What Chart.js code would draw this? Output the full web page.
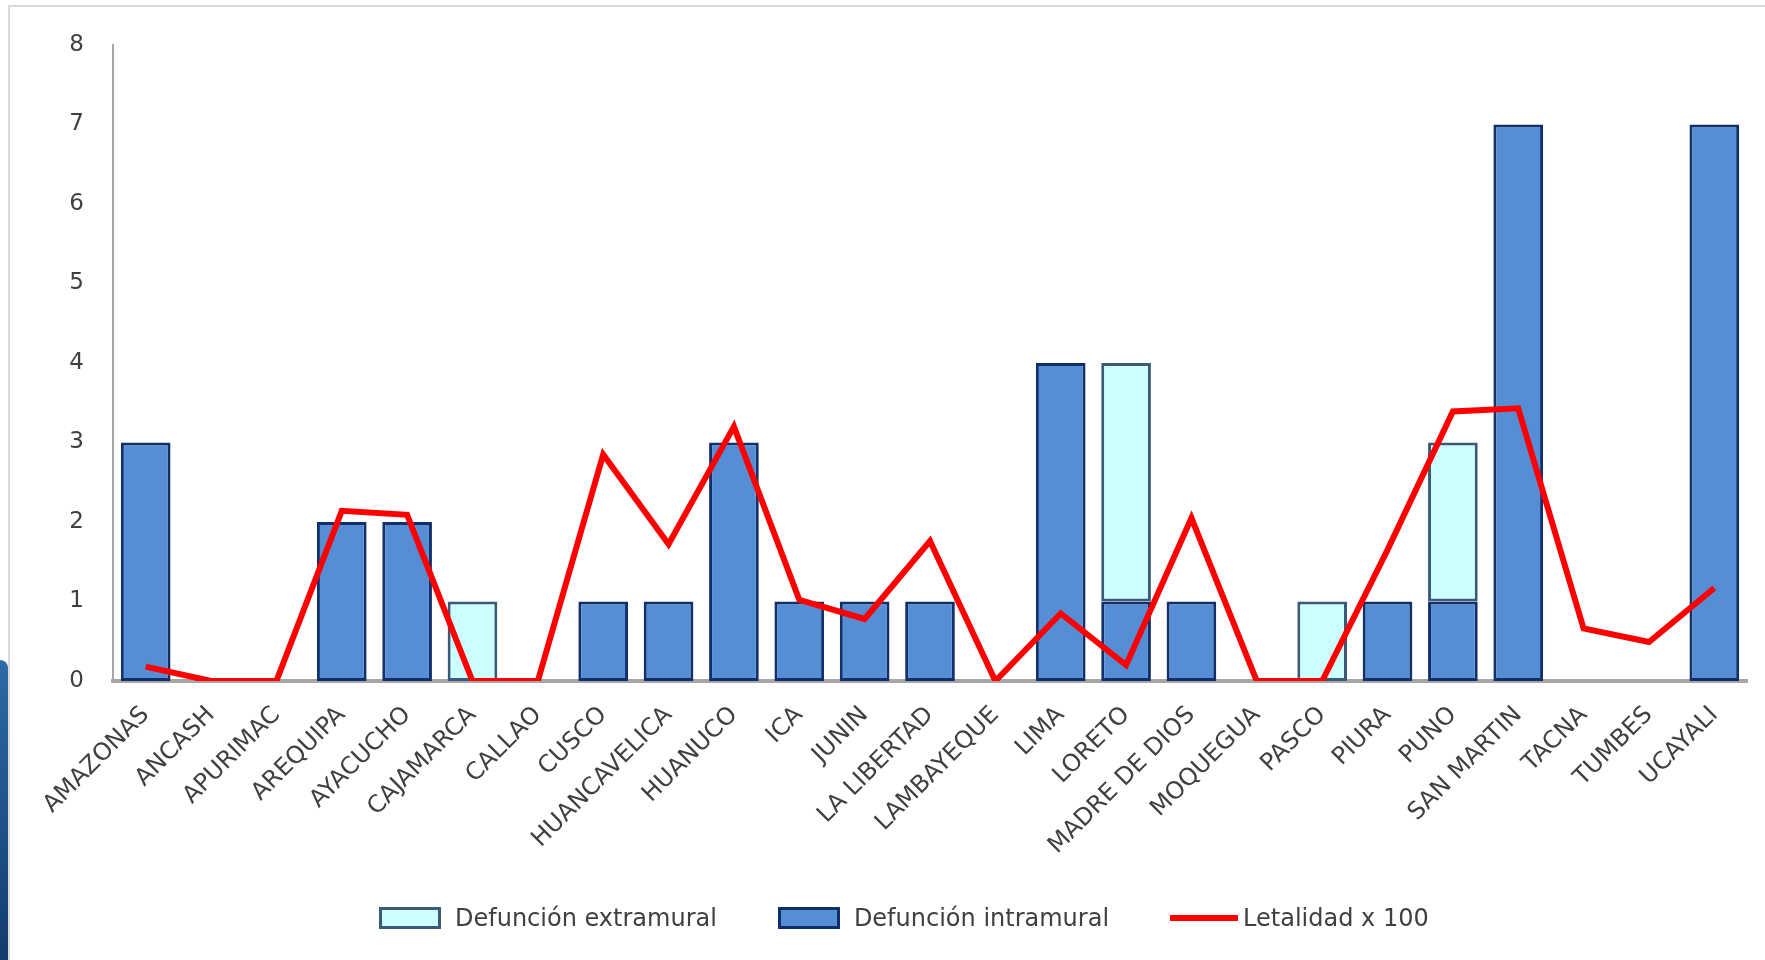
<!DOCTYPE html>
<html>
<head>
<meta charset="utf-8">
<script src="https://cdn.jsdelivr.net/npm/chart.js@4.4.1/dist/chart.umd.min.js"></script>
<style>
	html, body { margin: 0; padding: 0; background: #ffffff; }
	#wrap { position: relative; width: 1765px; height: 960px; overflow: hidden; }
	#frame { position: absolute; left: 8px; top: 5px; right: -10px; bottom: -10px; border-top: 2px solid #d9d9d9; border-left: 2px solid #d9d9d9; }
	#strip { position: absolute; left: 0; top: 660px; width: 8px; height: 300px; background: linear-gradient(#2d6aa6, #123c6e); border-radius: 0 8px 0 0; }
	canvas { position: absolute; left: 0; top: 0; }
	#legend { position: absolute; left: 379px; top: 903px; height: 30px; display: flex; align-items: center; font-family: 'DejaVu Sans'; font-size: 24px; color: #404040; white-space: nowrap; }
	#legend .item { display: flex; align-items: center; margin-right: 61px; }
	#legend .box { width: 56px; height: 16px; border: 3px solid; margin-right: 14px; }
	#legend .line { width: 68px; height: 6px; margin-right: 5px; }
</style>
</head>
<body>
<div id="wrap">
	<div id="frame"></div>
	<div id="strip"></div>
	<canvas id="chart" width="1765" height="960"></canvas>
	<div id="legend"></div>
</div>
<script>
const categories = ['AMAZONAS', 'ANCASH', 'APURIMAC', 'AREQUIPA', 'AYACUCHO', 'CAJAMARCA', 'CALLAO', 'CUSCO', 'HUANCAVELICA', 'HUANUCO', 'ICA', 'JUNIN', 'LA LIBERTAD', 'LAMBAYEQUE', 'LIMA', 'LORETO', 'MADRE DE DIOS', 'MOQUEGUA', 'PASCO', 'PIURA', 'PUNO', 'SAN MARTIN', 'TACNA', 'TUMBES', 'UCAYALI'];
const intramural = [3, 0, 0, 2, 2, 0, 0, 1, 1, 3, 1, 1, 1, 0, 4, 1, 1, 0, 0, 1, 1, 7, 0, 0, 7];
const extramural = [0, 0, 0, 0, 0, 1, 0, 0, 0, 0, 0, 0, 0, 0, 0, 3, 0, 0, 1, 0, 2, 0, 0, 0, 0];
const letalidad = [0.18, 0, 0, 2.14, 2.09, 0, 0, 2.85, 1.72, 3.2, 1.02, 0.78, 1.76, 0, 0.85, 0.2, 2.05, 0, 0, 1.65, 3.39, 3.43, 0.66, 0.49, 1.17];
const yTicks = [0, 1, 2, 3, 4, 5, 6, 7, 8];

const font = 'DejaVu Sans';

const ctx = document.getElementById('chart').getContext('2d');
const chart = new Chart(ctx, {
	type: 'bar',
	data: {
		labels: categories,
		datasets: [{
			label: 'Defunción intramural',
			data: intramural,
			backgroundColor: '#558ed5',
			borderColor: '#11306b',
			borderWidth: 3,
			borderSkipped: false,
			stack: 'def',
			order: 1
		}, {
			label: 'Defunción extramural',
			data: extramural,
			backgroundColor: '#ccffff',
			borderColor: '#3b5a78',
			borderWidth: 3,
			borderSkipped: false,
			stack: 'def',
			order: 1
		}, {
			type: 'line',
			label: 'Letalidad x 100',
			data: letalidad,
			borderColor: '#ff0000',
			backgroundColor: '#ff0000',
			borderWidth: 6,
			pointRadius: 0,
			tension: 0,
			stack: 'let',
			order: 0
		}]
	},
	options: {
		responsive: false,
		animation: false,
		layout: {
			padding: { left: 60, right: 18, top: 45, bottom: 79 }
		},
		datasets: {
			bar: {
				categoryPercentage: 0.76,
				barPercentage: 1
			}
		},
		plugins: {
			tooltip: { enabled: false },
			legend: { display: false }
		},
		scales: {
			x: {
				stacked: true,
				grid: { display: false, drawTicks: false },
				border: { display: true, color: '#a6a6a6', width: 4 },
				ticks: {
					color: '#404040',
					font: { family: font, size: 24 },
					minRotation: 45,
					maxRotation: 45,
					autoSkip: false,
					padding: 20
				},
				afterFit: function (s) { s.height = 200; }
			},
			y: {
				stacked: true,
				min: yTicks[0],
				max: yTicks[yTicks.length - 1],
				grid: { display: false, drawTicks: false },
				border: { display: true, color: '#a6a6a6', width: 2 },
				afterBuildTicks: function (s) { s.ticks = yTicks.map(v => ({ value: v })); },
				ticks: {
					color: '#404040',
					font: { family: font, size: 23 },
					padding: 29
				},
				afterFit: function (s) { s.width = 53; }
			}
		}
	}
});

// legend in the order of the original: extramural, intramural, letalidad
const legend = document.getElementById('legend');
[1, 0, 2].forEach(function (i) {
	const ds = chart.data.datasets[i];
	const item = document.createElement('div');
	item.className = 'item';
	const mark = document.createElement('span');
	if (ds.type === 'line') {
		mark.className = 'line';
		mark.style.background = ds.borderColor;
	} else {
		mark.className = 'box';
		mark.style.background = ds.backgroundColor;
		mark.style.borderColor = ds.borderColor;
	}
	const txt = document.createElement('span');
	txt.textContent = ds.label;
	item.appendChild(mark);
	item.appendChild(txt);
	legend.appendChild(item);
});
</script>
</body>
</html>
